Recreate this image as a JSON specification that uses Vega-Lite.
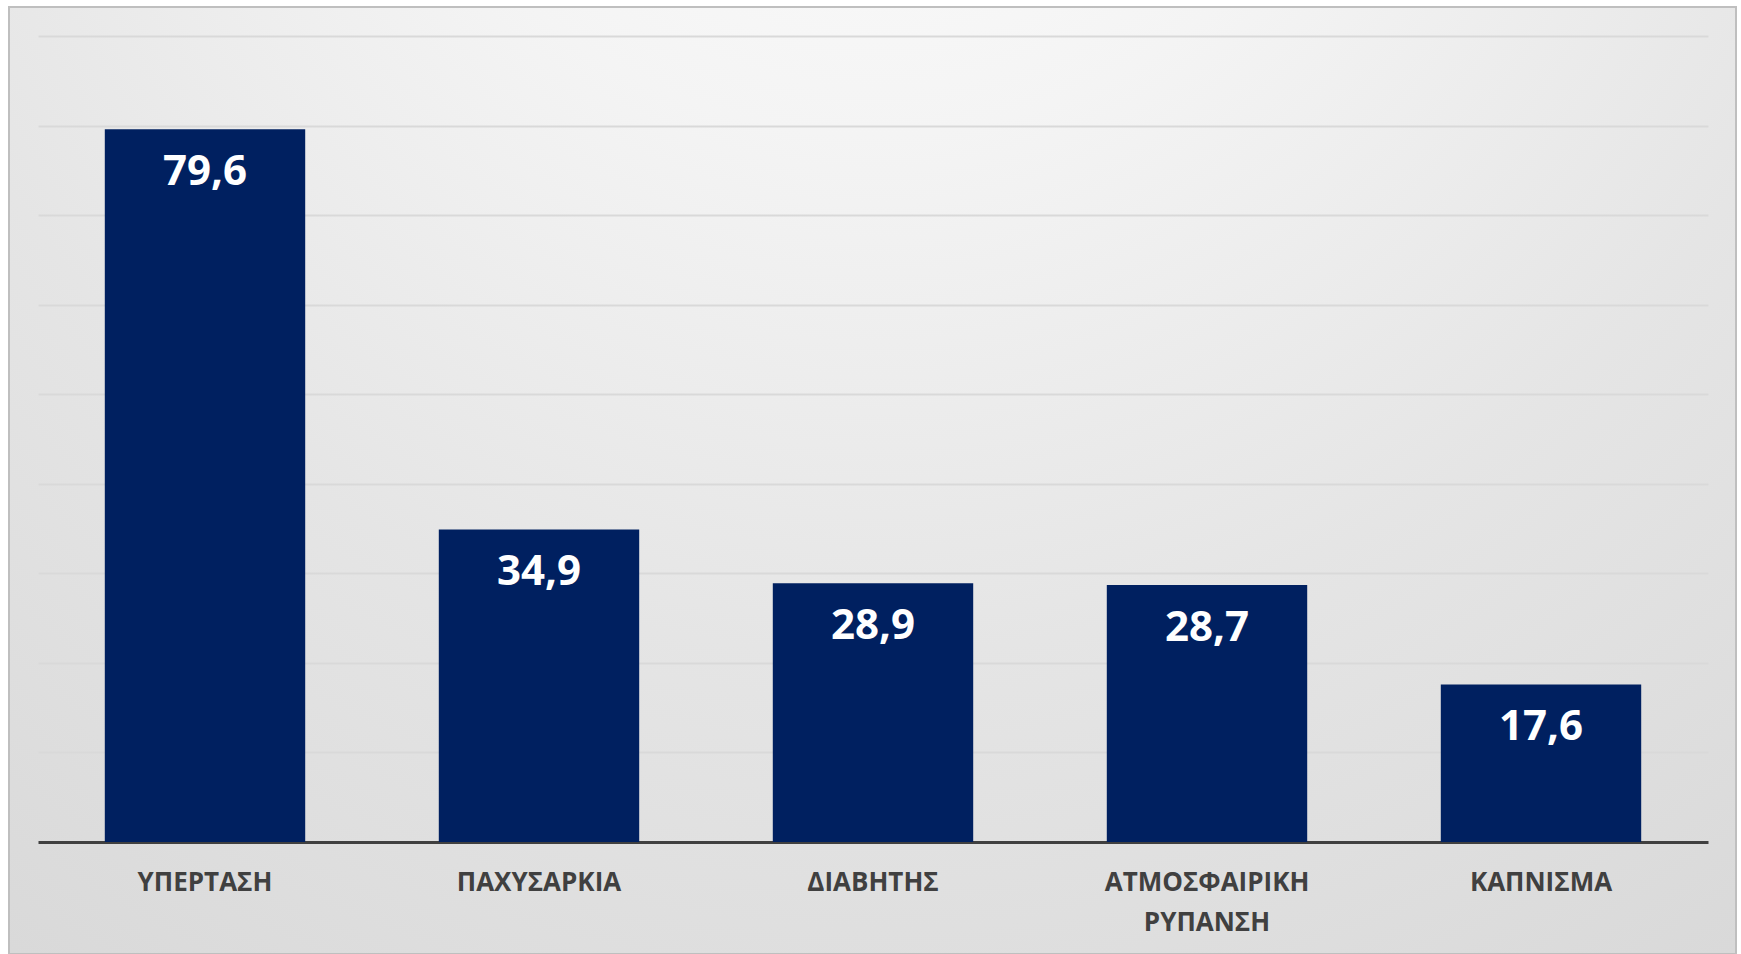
{
  "$schema": "https://vega.github.io/schema/vega-lite/v6.json",
  "autosize": {"type": "none"},
  "padding": {"left": 9, "top": 7, "right": 5, "bottom": 0},
  "width": 1727,
  "height": 947,
  "background": "#ffffff",
  "config": {
    "locale": {"number": {"decimal": ",", "thousands": ".", "grouping": [3], "currency": ["", " €"]}},
    "view": {
      "stroke": "#bfbfbf",
      "strokeWidth": 2,
      "fill": {
        "gradient": "radial",
        "x1": 0.5, "y1": 0.0, "x2": 0.5, "y2": 0.0,
        "r1": 0, "r2": 1,
        "stops": [
          {"offset": 0, "color": "#ffffff"},
          {"offset": 0.3, "color": "#f4f4f4"},
          {"offset": 0.6, "color": "#e5e5e5"},
          {"offset": 1, "color": "#d6d6d6"}
        ]
      }
    }
  },
  "data": {
    "values": [
      {"category": "ΥΠΕΡΤΑΣΗ", "value": 79.6},
      {"category": "ΠΑΧΥΣΑΡΚΙΑ", "value": 34.9},
      {"category": "ΔΙΑΒΗΤΗΣ", "value": 28.9},
      {"category": "ΑΤΜΟΣΦΑΙΡΙΚΗ ΡΥΠΑΝΣΗ", "value": 28.7},
      {"category": "ΚΑΠΝΙΣΜΑ", "value": 17.6}
    ]
  },
  "encoding": {
    "x": {
      "field": "category",
      "type": "nominal",
      "sort": null,
      "scale": {"range": [29, 1699], "paddingInner": 0.4, "paddingOuter": 0.2},
      "axis": {
        "title": null,
        "orient": "bottom",
        "offset": -112,
        "labelAngle": 0,
        "ticks": false,
        "tickSize": 0,
        "domain": true,
        "domainColor": "#404040",
        "domainWidth": 3,
        "labelFont": "Open Sans",
        "labelFontSize": 26,
        "labelFontWeight": "bold",
        "labelColor": "#404040",
        "labelPadding": 27,
        "labelLimit": 0,
        "labelLineHeight": 40,
        "labelExpr": "split(datum.label, ' ')"
      }
    },
    "y": {
      "field": "value",
      "type": "quantitative",
      "scale": {"domain": [0, 90], "range": [835, 29], "nice": false, "zero": true},
      "axis": {
        "title": null,
        "grid": true,
        "gridColor": "#d9d9d9",
        "gridWidth": 2,
        "labels": false,
        "ticks": false,
        "domain": false,
        "values": [10, 20, 30, 40, 50, 60, 70, 80, 90]
      }
    }
  },
  "layer": [
    {"mark": {"type": "bar", "color": "#002060"}},
    {
      "mark": {
        "type": "text",
        "color": "#ffffff",
        "font": "Open Sans",
        "fontSize": 42,
        "fontWeight": "bold",
        "baseline": "top",
        "align": "center",
        "dy": 23
      },
      "encoding": {"text": {"field": "value", "type": "quantitative", "format": ".1f"}}
    }
  ]
}
